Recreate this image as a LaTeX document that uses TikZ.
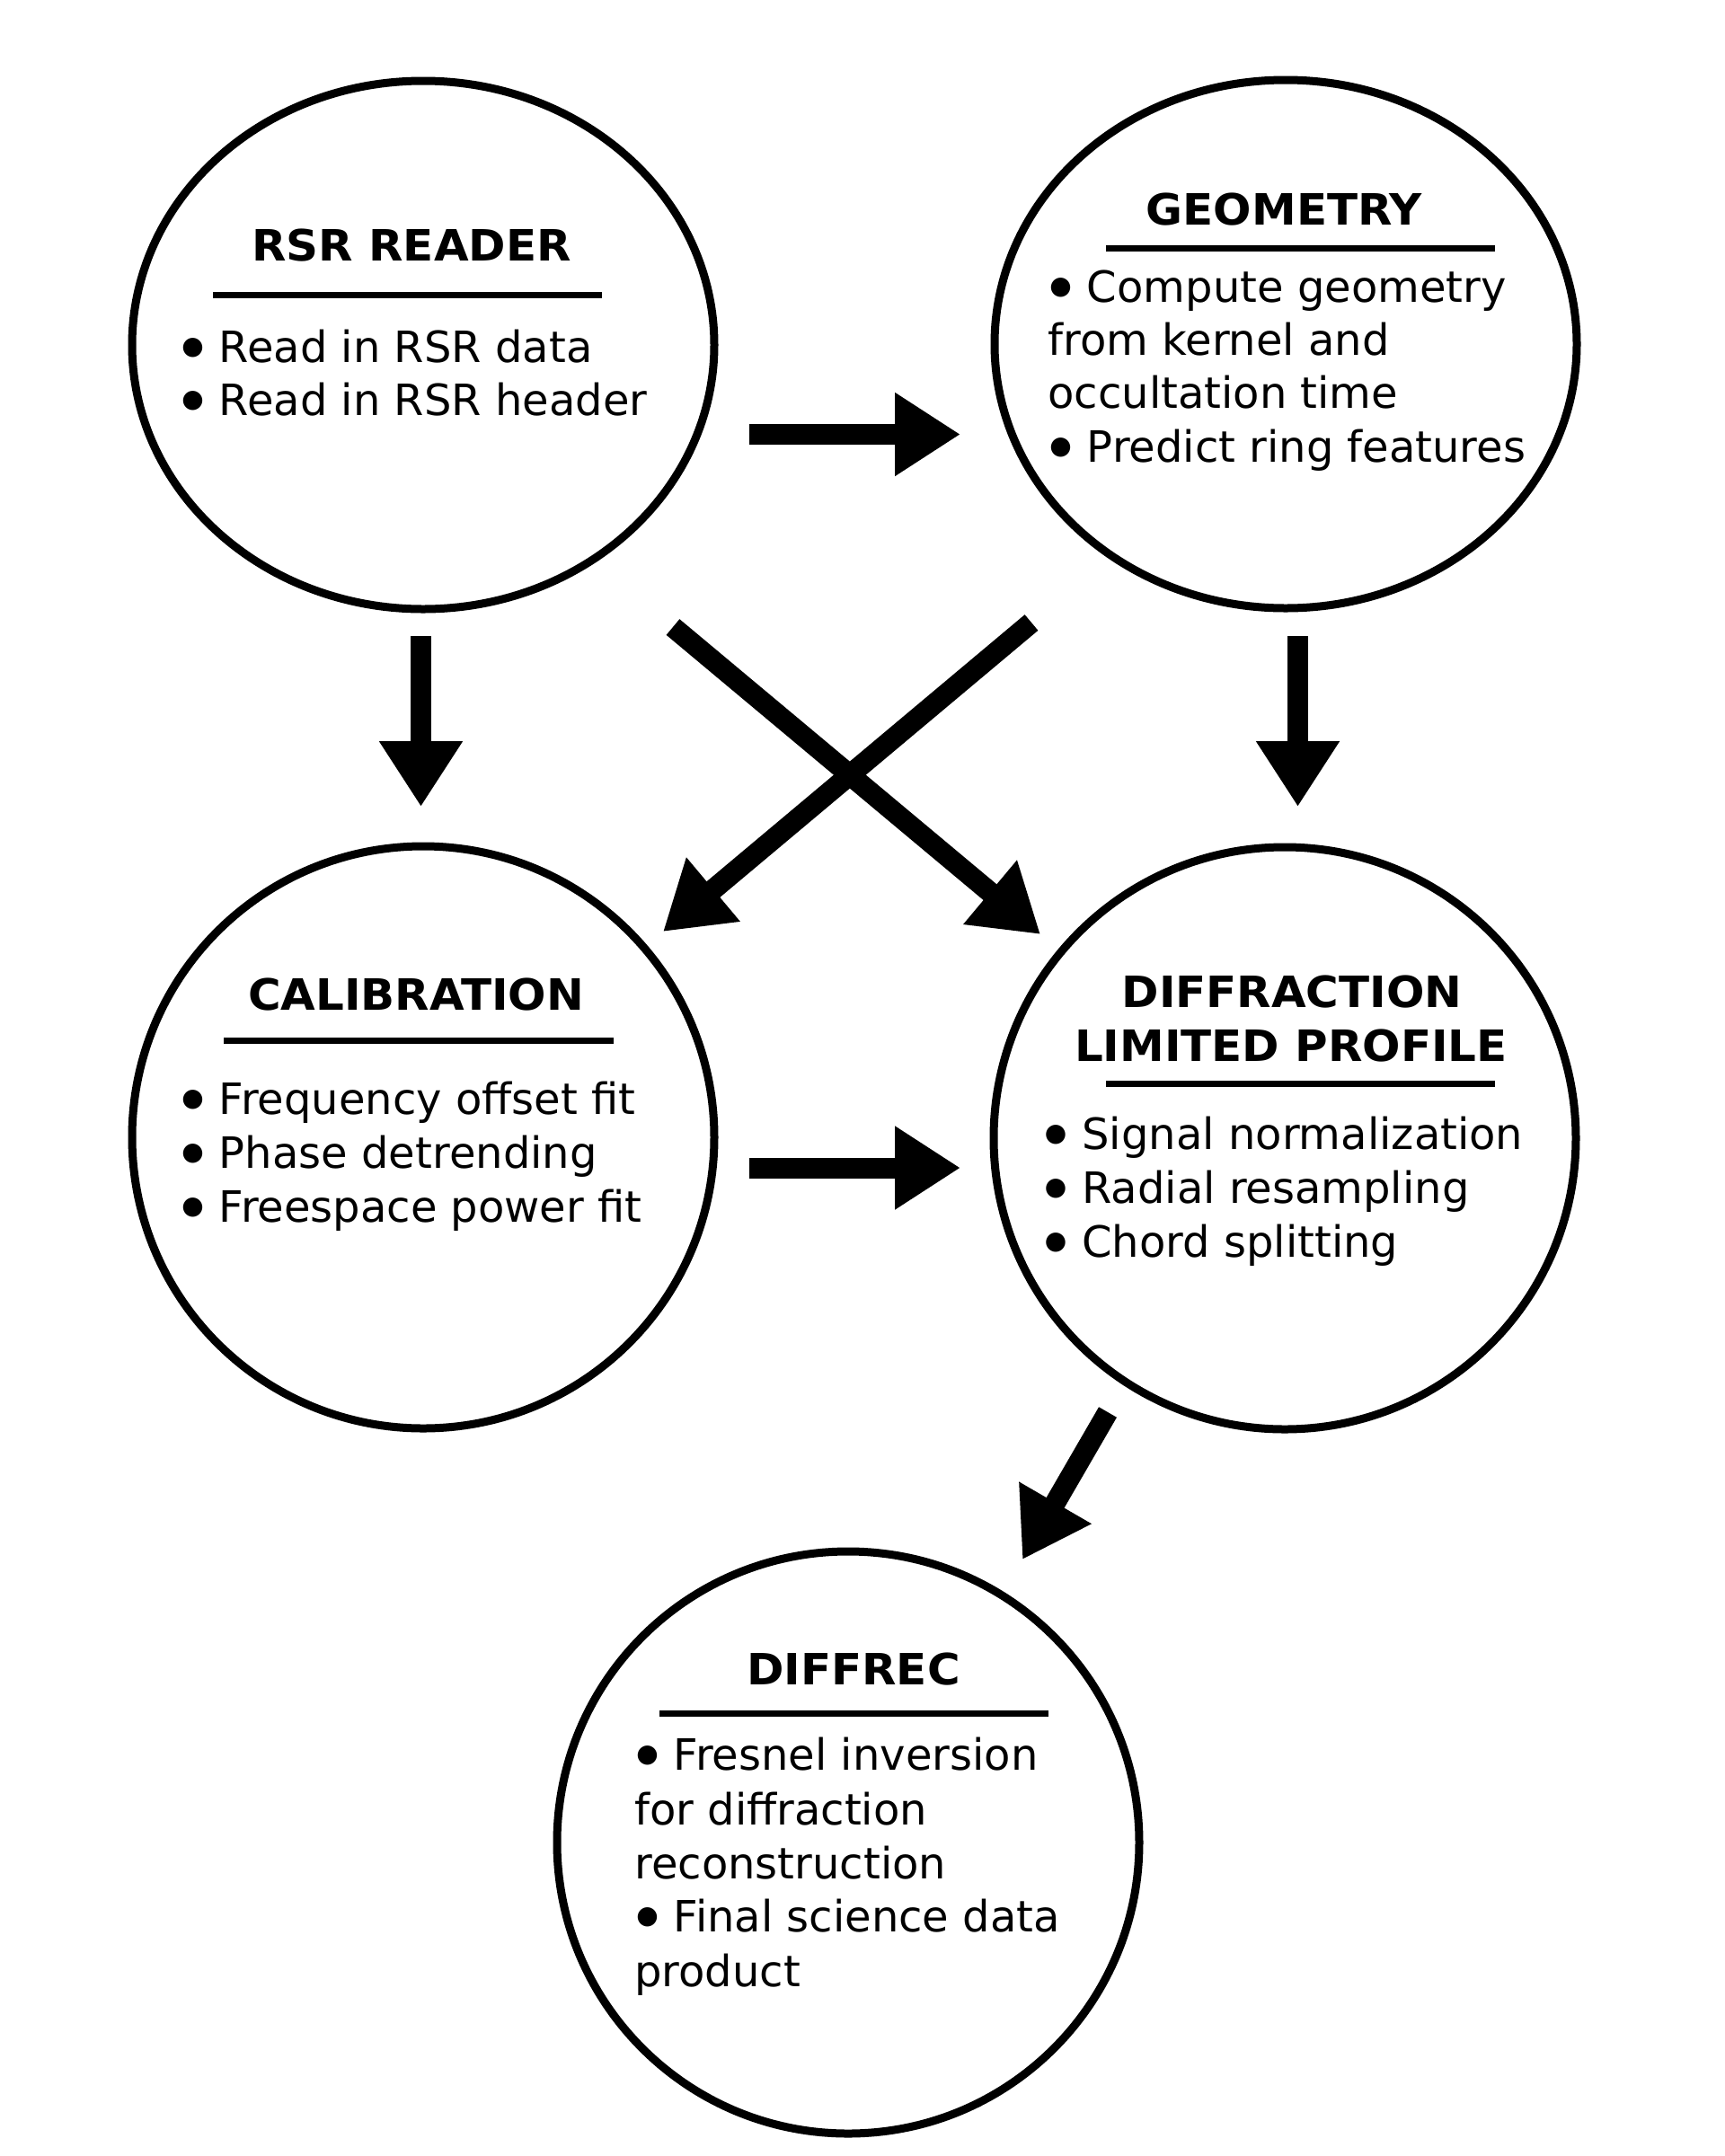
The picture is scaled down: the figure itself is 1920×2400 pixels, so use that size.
\documentclass[tikz,border=0pt]{standalone}
\usepackage{fontspec}
\usepackage{graphicx}
\setmainfont{DejaVu Sans}
\newfontfamily\ttlfont[FakeStretch=1.04]{DejaVu Sans}
\usetikzlibrary{shapes.geometric,arrows.meta}
\newsavebox\bulbox
\newcommand\bul{\sbox\bulbox{•}\makebox[\wd\bulbox][c]{\raisebox{4.5pt}{\fontsize{14pt}{14pt}\selectfont ●}}}
\begin{document}
\begin{tikzpicture}[x=0.5pt,y=-0.5pt,
  blob/.style={draw=black,line width=4.5pt,ellipse,inner sep=0pt,fill=white},
  ttl/.style={anchor=base,inner sep=0pt,font=\fontsize{24pt}{30pt}\selectfont\ttlfont\bfseries},
  txt/.style={anchor=base west,inner sep=0pt,font=\fontsize{24pt}{30pt}\selectfont},
  rulebar/.style={line width=3.5pt},
  bigarrow/.style={line width=11.5pt,-{Triangle[length=36.5pt,width=44pt]}}]
\fill[white] (0,0) rectangle (1920,2400);
\useasboundingbox (0,0) rectangle (1920,2400);

% circles
\node[blob,minimum width=324pt,minimum height=294pt] (rsr) at (471,384) {};
\node[blob,minimum width=324pt,minimum height=294pt] (geo) at (1431,383) {};
\node[blob,minimum width=324pt,minimum height=324pt] (cal) at (471,1266) {};
\node[blob,minimum width=324pt,minimum height=324pt] (dlp) at (1430,1267) {};
\node[blob,minimum width=324pt,minimum height=324pt] (drc) at (944,2051) {};

% RSR READER
\node[ttl] (rsrT) at (458,290.5) {RSR READER};
\draw[rulebar] (237,328.5) -- (670,328.5);
\node[txt] (rsr1) at (200,403) {\bul{} Read in RSR data};
\node[txt] (rsr2) at (200,462.5) {\bul{} Read in RSR header};

% GEOMETRY
\node[ttl] (geoT) at (1429.5,250) {GEOMETRY};
\draw[rulebar] (1231,276.5) -- (1664,276.5);
\node[txt] (geo1) at (1166,336) {\bul{} Compute geometry};
\node[txt] (geo2) at (1166,395.5) {from kernel and};
\node[txt] (geo3) at (1166,454.5) {occultation time};
\node[txt] (geo4) at (1166,514) {\bul{} Predict ring features};

% CALIBRATION
\node[ttl] (calT) at (463,1124.5) {CALIBRATION};
\draw[rulebar] (249,1158.5) -- (683,1158.5);
\node[txt] (cal1) at (200,1240) {\bul{} Frequency offset fit};
\node[txt] (cal2) at (200,1300) {\bul{} Phase detrending};
\node[txt] (cal3) at (200,1360) {\bul{} Freespace power fit};

% DIFFRACTION LIMITED PROFILE
\node[ttl] (dlpT1) at (1438,1121) {DIFFRACTION};
\node[ttl] (dlpT2) at (1437,1181) {LIMITED PROFILE};
\draw[rulebar] (1231,1206.5) -- (1664,1206.5);
\node[txt] (dlp1) at (1160.5,1279.5) {\bul{} Signal normalization};
\node[txt] (dlp2) at (1160.5,1339.5) {\bul{} Radial resampling};
\node[txt] (dlp3) at (1160.5,1399) {\bul{} Chord splitting};

% DIFFREC
\node[ttl] (drcT) at (950,1875) {DIFFREC};
\draw[rulebar] (734,1907) -- (1167,1907);
\node[txt] (drc1) at (706,1970.5) {\bul{} Fresnel inversion};
\node[txt] (drc2) at (706,2031) {for diffraction};
\node[txt] (drc3) at (706,2091) {reconstruction};
\node[txt] (drc4) at (706,2150.5) {\bul{} Final science data};
\node[txt] (drc5) at (706,2211) {product};

% arrow end points
\coordinate (a1s) at (834,483.5);  \coordinate (a1e) at (1069,483.5);
\coordinate (a2s) at (834,1300);   \coordinate (a2e) at (1069,1300);
\coordinate (d1s) at (468.5,708);  \coordinate (d1e) at (468.5,898);
\coordinate (d2s) at (1444.5,708); \coordinate (d2e) at (1444.5,898);
\coordinate (x1s) at (749,698);    \coordinate (x1e) at (1158,1040);
\coordinate (x2s) at (1148,693);   \coordinate (x2e) at (738,1037);
\coordinate (b1s) at (1233,1572);  \coordinate (b1e) at (1138,1736);

\draw[bigarrow] (a1s) -- (a1e);
\draw[bigarrow] (a2s) -- (a2e);
\draw[bigarrow] (d1s) -- (d1e);
\draw[bigarrow] (d2s) -- (d2e);
\draw[bigarrow] (x1s) -- (x1e);
\draw[bigarrow] (x2s) -- (x2e);
\draw[bigarrow] (b1s) -- (b1e);
\end{tikzpicture}
\end{document}
